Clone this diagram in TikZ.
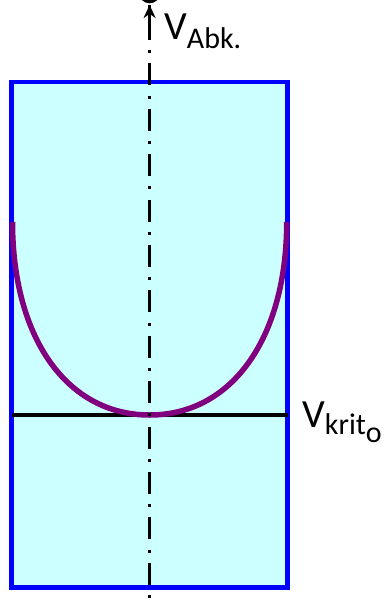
\documentclass[tikz,border=0pt]{standalone}
\usepackage{fontspec}
\setmainfont{Carlito}
\usetikzlibrary{arrows.meta}
\definecolor{paleCyan}{HTML}{CCFFFF}
\definecolor{frameBlue}{HTML}{0000FF}
\definecolor{curvePurple}{HTML}{800080}
\tikzset{
  boxframe/.style={draw=frameBlue, line width=4.5pt, fill=paleCyan},
  axisline/.style={line width=3pt, dash pattern=on 3pt off 10.2pt on 22pt off 10.2pt},
  curveline/.style={draw=curvePurple, line width=5.5pt},
  critline/.style={draw=black, line width=4pt},
  lbl/.style={inner sep=0pt, anchor=base west}
}
\begin{document}
\begin{tikzpicture}[x=1pt,y=-1pt]
\useasboundingbox (0,0) rectangle (385,606);
\fill[white] (0,0) rectangle (385,606);
\coordinate (tl) at (11.7,82);
\coordinate (br) at (287.5,587.5);
\draw[boxframe] (tl) rectangle (br);
\coordinate (lc) at (11.7,415);
\coordinate (rc) at (287.5,415);
\draw[critline] (lc) -- (rc);
\coordinate (cl) at (12.5,222);
\coordinate (cm) at (149.6,415);
\coordinate (cr) at (286.7,222);
\draw[curveline] (cl) .. controls (12.5,338) and (67,415) .. (cm)
  .. controls (232,415) and (286.7,338) .. (cr);
\coordinate (axb) at (149.6,598);
\coordinate (axt) at (149.6,5);
\draw[axisline] (axb) -- (axt);
\draw[line width=3pt, -{Stealth[length=13pt,width=12pt]}] (149.6,22) -- (axt);
\node[draw, line width=3.5pt, circle, minimum size=18pt, inner sep=0pt, fill=white] (top) at (149.6,-7.5) {};
\node[lbl] (vabk) at (164,39.5) {\fontsize{40}{40}\selectfont V\raisebox{-9pt}{\fontsize{30}{30}\selectfont Abk.}};
\node[lbl] (vkrit) at (302,427.5) {\fontsize{40}{40}\selectfont V\raisebox{-7pt}{\fontsize{30}{30}\selectfont krit\raisebox{-8pt}{o}}};
\end{tikzpicture}
\end{document}
